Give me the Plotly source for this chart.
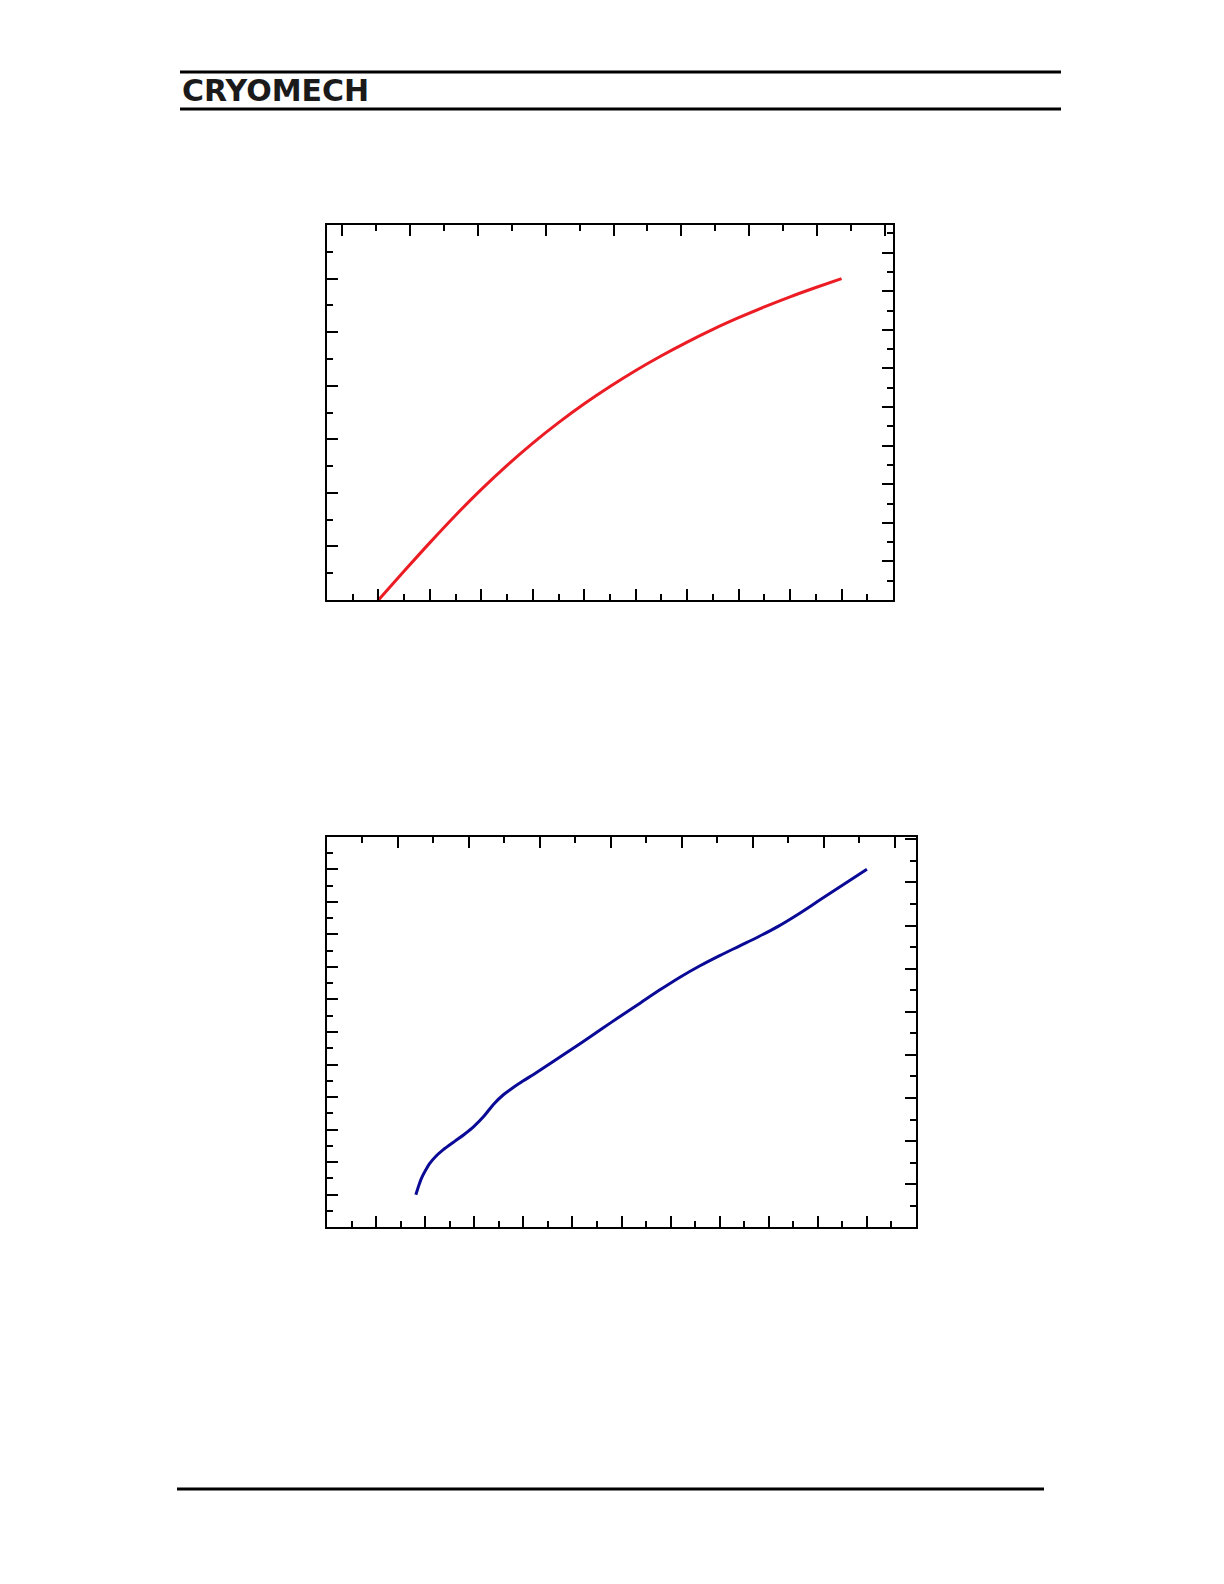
import plotly.graph_objects as go

# Page is 1224x1584; the browser body adds an 8px margin, so the figure is
# slightly smaller and positions are converted with that offset.
PAGE_W, PAGE_H = 1224, 1584
OFF = 8
W, H = PAGE_W - 2 * OFF, PAGE_H - 2 * OFF

# ---- Data: chart 1 (red curve) ----
c1_x = [10, 15, 20, 25, 30, 35, 40, 45, 50, 55, 60, 65, 70, 75, 80, 85, 90, 95, 100]
c1_y = [0, 5.40, 10.71, 15.83, 20.65, 25.14, 29.29, 33.10, 36.62, 39.85, 42.85,
        45.60, 48.15, 50.52, 52.69, 54.72, 56.60, 58.33, 60.0]

# ---- Data: chart 2 (blue curve) ----
c2_x = [9.05, 9.3, 9.62, 10.0, 10.47, 11.0, 11.82, 13.0, 14.0, 15.0, 16.0, 17.0, 18.0,
        19.0, 20.0, 21.0, 22.0, 24.0, 26.0, 28.0, 30.0, 32.0, 34.0, 36.0, 38.0, 40.0,
        42.0, 44.0, 46.0, 48.0, 50.0, 52.5, 55.0]
c2_y = [5.0, 6.2, 7.53, 8.65, 9.83, 10.77, 11.88, 13.2, 14.3, 15.55, 17.1, 18.95, 20.4,
        21.5, 22.5, 23.45, 24.43, 26.43, 28.43, 30.49, 32.55, 34.55, 36.55, 38.45, 40.17,
        41.73, 43.2, 44.67, 46.27, 48.1, 50.07, 52.54, 55.0]

def px(x):
    return (x - OFF) / W

def py(y):
    return 1 - (y - OFF) / H

fig = go.Figure()
fig.add_trace(go.Scatter(x=c1_x, y=c1_y, mode="lines", xaxis="x", yaxis="y",
                         line=dict(color="#ec1c24", width=3, shape="spline", smoothing=0.9),
                         showlegend=False, hoverinfo="skip"))
fig.add_trace(go.Scatter(x=c2_x, y=c2_y, mode="lines", xaxis="x3", yaxis="y3",
                         line=dict(color="#0a0a96", width=3, shape="spline", smoothing=0.9),
                         showlegend=False, hoverinfo="skip"))
# empty traces so the secondary (top / right) axes are drawn
fig.add_trace(go.Scatter(x=[None], y=[None], mode="lines", xaxis="x2", yaxis="y2",
                         showlegend=False, hoverinfo="skip"))
fig.add_trace(go.Scatter(x=[None], y=[None], mode="lines", xaxis="x4", yaxis="y4",
                         showlegend=False, hoverinfo="skip"))

def ax(rng, dt, mdt, **kw):
    d = dict(range=rng, dtick=dt, tick0=0, ticks="inside", ticklen=11, tickwidth=2,
             tickcolor="black", showticklabels=False, showline=True, linewidth=2.4,
             linecolor="black", showgrid=False, zeroline=False, fixedrange=True,
             minor=dict(dtick=mdt, tick0=0, ticks="inside", ticklen=6, tickwidth=2,
                        tickcolor="black", showgrid=False))
    d.update(kw)
    return d

dom1x = [px(327), px(893)]
dom1y = [py(600), py(225)]
dom2x = [px(327), px(916)]
dom2y = [py(1227.3), py(836.7)]

fig.update_layout(
    width=W, height=H, autosize=False,
    margin=dict(l=0, r=0, t=0, b=0),
    paper_bgcolor="white", plot_bgcolor="white",
    xaxis=ax([0, 110], 10, 5, domain=dom1x, anchor="y", side="bottom"),
    xaxis2=ax([-2.26, 81.22], 10, 5, overlaying="x", anchor="y", side="top"),
    yaxis=ax([0, 70], 10, 5, domain=dom1y, anchor="x", side="left"),
    yaxis2=ax([0, 97.18], 10, 5, overlaying="y", anchor="x", side="right"),
    xaxis3=ax([0, 60], 5, 2.5, domain=dom2x, anchor="y3", side="bottom"),
    xaxis4=ax([0, 82.97], 10, 5, overlaying="x3", anchor="y3", side="top"),
    yaxis3=ax([0, 60], 5, 2.5, domain=dom2y, anchor="x3", side="left"),
    yaxis4=ax([0, 90.6], 10, 5, overlaying="y3", anchor="x3", side="right"),
)

line_style = dict(color="black", width=3)
fig.add_shape(type="line", xref="paper", yref="paper", x0=px(180), x1=px(1061),
              y0=py(72), y1=py(72), line=line_style)
fig.add_shape(type="line", xref="paper", yref="paper", x0=px(180), x1=px(1061),
              y0=py(109), y1=py(109), line=line_style)
fig.add_shape(type="line", xref="paper", yref="paper", x0=px(177), x1=px(1044),
              y0=py(1489), y1=py(1489), line=line_style)

fig.add_annotation(text="<b>CRYOMECH</b>", xref="paper", yref="paper",
                   x=px(180), y=py(91), xanchor="left", yanchor="middle",
                   showarrow=False, font=dict(family="DejaVu Sans", size=30, color="#1a1a1a"))

fig.write_html("out.html")
